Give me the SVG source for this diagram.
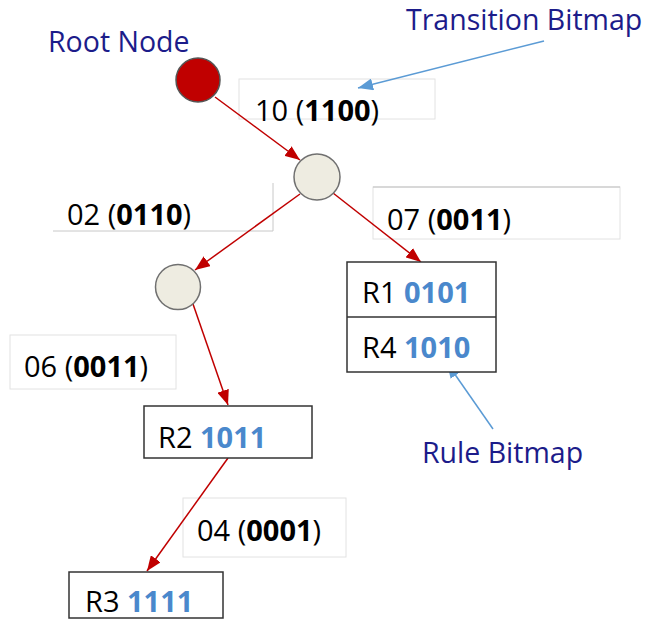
<svg xmlns="http://www.w3.org/2000/svg" width="661" height="621" viewBox="0 0 661 621">
<defs>
<style>
.lbl{font-family:"Open Sans","DejaVu Sans",sans-serif;font-size:29px;fill:#000}
.b{font-weight:bold}
.bits{font-weight:bold;fill:#4A88CC}
.note{font-family:"Open Sans","DejaVu Sans",sans-serif;font-size:28.5px;fill:#1C1C8A}
.box{fill:#fff;stroke:#e2e2e2;stroke-width:1}
.edge{stroke:#C00000;stroke-width:1.5;fill:none;marker-end:url(#ra)}
.call{stroke:#5B9BD5;stroke-width:1.5;fill:none;marker-end:url(#ba)}
.rule{fill:#fff;stroke:#333;stroke-width:1.5}
.inner{fill:#EEECE1;stroke:#707070;stroke-width:1.5}
</style>
<marker id="ra" markerUnits="userSpaceOnUse" markerWidth="16" markerHeight="12" refX="15" refY="6" orient="auto"><path d="M0,0 L15,6 L0,12 z" fill="#C00000"/></marker>
<marker id="ba" markerUnits="userSpaceOnUse" markerWidth="16" markerHeight="12" refX="15" refY="6" orient="auto"><path d="M0,0 L15,6 L0,12 z" fill="#5B9BD5"/></marker>
</defs>
<rect width="661" height="621" fill="#fff"/>

<g id="label-10">
<rect class="box" x="239" y="79" width="196" height="40"/>
<text class="lbl" x="255" y="121">10 (<tspan class="b">1100</tspan>)</text>
</g>
<g id="label-02">
<path d="M53,231 H273 V183" fill="none" stroke="#c8c8c8" stroke-width="1"/>
<text class="lbl" x="67" y="225">02 (<tspan class="b">0110</tspan>)</text>
</g>
<g id="label-07">
<rect class="box" x="373" y="187" width="247" height="52"/>
<line x1="373" y1="187" x2="620" y2="187" stroke="#c0c0c0" stroke-width="1"/>
<text class="lbl" x="387" y="230">07 (<tspan class="b">0011</tspan>)</text>
</g>
<g id="label-06">
<rect class="box" x="10" y="335" width="166" height="54"/>
<text class="lbl" x="24" y="377">06 (<tspan class="b">0011</tspan>)</text>
</g>
<g id="label-04">
<rect class="box" x="183" y="498" width="163" height="59"/>
<text class="lbl" x="197" y="541">04 (<tspan class="b">0001</tspan>)</text>
</g>

<g id="connectors">
<line class="edge" x1="215" y1="97" x2="300" y2="160"/>
<line class="edge" x1="300" y1="194" x2="195" y2="270"/>
<line class="edge" x1="333" y1="193" x2="421" y2="262"/>
<line class="edge" x1="193" y1="304" x2="228" y2="405"/>
<line class="edge" x1="228" y1="458" x2="147" y2="571"/>
<line class="call" x1="544" y1="41" x2="358" y2="88"/>
<line class="call" x1="493" y1="429" x2="447" y2="363"/>
</g>

<g id="root">
<circle cx="198" cy="80" r="22" fill="#C00000" stroke="#555" stroke-width="1.5"/>
</g>
<g id="n1">
<circle class="inner" cx="317" cy="177" r="23"/>
</g>
<g id="n2">
<circle class="inner" cx="178" cy="287" r="22.5"/>
</g>

<g id="rules-r1-r4">
<rect class="rule" x="347" y="262" width="149" height="110"/>
<line x1="347" y1="317" x2="496" y2="317" stroke="#333" stroke-width="1.5"/>
<text class="lbl" x="362" y="303">R1 <tspan class="bits">0101</tspan></text>
<text class="lbl" x="362" y="358">R4 <tspan class="bits">1010</tspan></text>
</g>
<g id="rules-r2">
<rect class="rule" x="144" y="406" width="168" height="52"/>
<text class="lbl" x="158" y="448">R2 <tspan class="bits">1011</tspan></text>
</g>
<g id="rules-r3">
<rect class="rule" x="69" y="572" width="154" height="46"/>
<text class="lbl" x="85" y="612">R3 <tspan class="bits">1111</tspan></text>
</g>

<g id="notes">
<text class="note" x="48" y="52">Root Node</text>
<text class="note" x="406" y="30" font-size="28">Transition Bitmap</text>
<text class="note" x="422" y="463">Rule Bitmap</text>
</g>
</svg>
